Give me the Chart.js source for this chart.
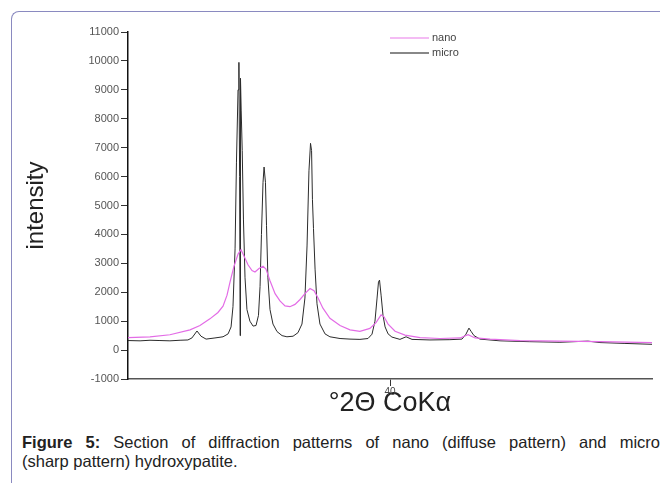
<!DOCTYPE html>
<html>
<head>
<meta charset="utf-8">
<title>Figure 5</title>
<script src="https://cdn.jsdelivr.net/npm/chart.js@4/dist/chart.umd.min.js"></script>
<style>
  body { margin: 0; background: #fff; overflow: hidden; font-family: "Liberation Sans", Arial, sans-serif; }
  .frame {
    position: absolute; left: 11px; top: 11px; width: 700px; height: 520px;
    border-top: 1px solid #8a8ac0; border-left: 1px solid #8a8ac0;
    border-top-left-radius: 8px;
  }
  #chart { position: absolute; left: 0; top: 0; }
  .caption {
    position: absolute; left: 22px; top: 433px; width: 638px;
    font-size: 16.5px; line-height: 19px; color: #222;
  }
  .caption .first { text-align: justify; text-align-last: justify; white-space: nowrap; }
</style>
</head>
<body>
<div class="frame"></div>
<canvas id="chart" width="660" height="420"></canvas>
<div class="caption">
  <div class="first"><b>Figure 5:</b> Section of diffraction patterns of nano (diffuse pattern) and micro</div>
  <div>(sharp pattern) hydroxypatite.</div>
</div>

<script>
// 2-theta (deg) and intensity
const nanoAngle = [25.00, 26.26, 27.40, 28.55, 29.12, 29.69, 30.15, 30.44, 30.67, 30.84, 31.07, 31.30, 31.47, 31.64, 31.87,
  32.10, 32.27, 32.50, 32.73, 32.90, 33.13, 33.42, 33.70, 33.99, 34.27, 34.56, 34.85, 35.13, 35.42, 35.65, 35.88,
  36.16, 36.56, 37.14, 37.71, 38.28, 38.85, 39.20, 39.49, 39.66, 39.89, 40.29, 40.86, 41.72, 42.86, 44.01, 44.47,
  44.87, 45.73, 47.44, 49.73, 52.02, 55.00];
const nanoIntensity = [430, 460, 530, 700, 850, 1080, 1300, 1520, 1900, 2350, 2900, 3320, 3470, 3250, 2950,
  2750, 2700, 2820, 2900, 2800, 2400, 1950, 1700, 1530, 1500, 1580, 1750, 1950, 2130, 2050, 1800,
  1450, 1100, 850, 700, 650, 750, 950, 1220, 1150, 900, 650, 520, 430, 400, 420, 530,
  420, 380, 330, 310, 290, 260];

const microAngle = [25.00, 25.69, 26.26, 26.83, 27.40, 27.98, 28.43, 28.66, 28.95, 29.18, 29.47, 29.98, 30.44, 30.73,
  30.90, 31.01, 31.13, 31.21, 31.30, 31.35, 31.39, 31.42, 31.44, 31.48, 31.54, 31.61, 31.70, 31.81, 31.98,
  32.16, 32.33, 32.47, 32.56, 32.64, 32.73, 32.79, 32.87, 32.93, 33.01, 33.13, 33.30, 33.53, 33.82, 34.10,
  34.45, 34.73, 34.96, 35.13, 35.25, 35.36, 35.45, 35.51, 35.56, 35.62, 35.71, 35.82, 35.99, 36.28, 36.56,
  37.14, 37.71, 38.28, 38.74, 38.97, 39.14, 39.26, 39.34, 39.40, 39.49, 39.60, 39.72, 39.89, 40.11, 40.57,
  40.92, 41.26, 42.29, 43.43, 44.12, 44.35, 44.52, 44.64, 44.81, 45.15, 46.30, 48.01, 49.73, 51.33, 52.02,
  53.45, 55.00];
const microIntensity = [330, 320, 340, 330, 320, 340, 350, 420, 660, 480, 380, 420, 460, 560,
  800, 1500, 3500, 6500, 9000, 9950, 6000, 500, 9400, 8300, 6900, 4500, 2500, 1400, 1000,
  830, 850, 1200, 2200, 4000, 5800, 6330, 5800, 4300, 2500, 1400, 900, 640, 500, 460,
  480, 600, 900, 1800, 3600, 6200, 7150, 6900, 5200, 4200, 2800, 1600, 900, 560, 460,
  400, 380, 370, 400, 550, 1000, 1800, 2350, 2420, 1900, 1200, 800, 560, 450, 370,
  460, 370, 350, 360, 380, 550, 760, 650, 500, 380, 320, 290, 270, 310, 260,
  230, 200];

const seriesNames = ['nano', 'micro'];
const xTicks = [40];
const yMin = -1000, yMax = 11000;

const toPoints = (xs, ys) => xs.map((x, i) => ({ x: x, y: ys[i] }));

Chart.defaults.font.family = '"Liberation Sans", Arial, sans-serif';

// legend drawn inside the plot like the original
const insideLegend = {
    id: 'insideLegend',
    afterDraw(chart) {
        const c = chart.ctx;
        const rows = [
            { label: seriesNames[0], color: '#f0a6f0', y: 38, w: 1.5 },
            { label: seriesNames[1], color: '#888888', y: 53, w: 2 }
        ];
        c.save();
        c.font = '11px "Liberation Sans", Arial, sans-serif';
        c.textBaseline = 'middle';
        rows.forEach(r => {
            c.strokeStyle = r.color;
            c.lineWidth = r.w;
            c.beginPath();
            c.moveTo(390, r.y);
            c.lineTo(429, r.y);
            c.stroke();
            c.fillStyle = '#444';
            c.fillText(r.label, 432, r.y);
        });
        c.restore();
    }
};

new Chart(document.getElementById('chart'), {
    type: 'line',
    data: {
        datasets: [{
            label: seriesNames[0],
            data: toPoints(nanoAngle, nanoIntensity),
            borderColor: '#e36ce6',
            borderWidth: 1.2,
            pointRadius: 0,
            tension: 0
        }, {
            label: seriesNames[1],
            data: toPoints(microAngle, microIntensity),
            borderColor: '#2b2b2b',
            borderWidth: 1,
            pointRadius: 0,
            tension: 0
        }]
    },
    options: {
        responsive: false,
        animation: false,
        layout: {
            padding: { left: 0, top: 32, right: 8, bottom: 0 }
        },
        scales: {
            x: {
                type: 'linear',
                min: 25,
                max: 55,
                afterFit: (scale) => { scale.height = 41; },
                afterBuildTicks: (scale) => { scale.ticks = xTicks.map(v => ({ value: v })); },
                border: { display: true, color: '#555', width: 1.5 },
                grid: { drawOnChartArea: false, tickLength: 7, color: '#333' },
                ticks: { font: { size: 10 }, color: '#444', padding: 0, maxRotation: 0 },
                title: {
                    display: true,
                    text: '°2Θ CoKα',
                    font: { size: 27 },
                    color: '#222',
                    padding: { top: 0, bottom: 0 }
                }
            },
            y: {
                min: yMin,
                max: yMax,
                afterFit: (scale) => { scale.width = 128; },
                border: { display: true, color: '#111', width: 1.5 },
                grid: { drawOnChartArea: false, tickLength: 7, color: '#333' },
                ticks: {
                    stepSize: 500,
                    font: { size: 11 },
                    color: '#555',
                    padding: 2,
                    callback: (v) => (v % 1000 === 0 ? v : '')
                },
                title: {
                    display: true,
                    text: 'intensity',
                    font: { size: 24 },
                    color: '#222',
                    padding: { top: 22, bottom: 0 }
                }
            }
        },
        plugins: {
            legend: { display: false },
            tooltip: { enabled: false }
        }
    },
    plugins: [insideLegend]
});
</script>
</body>
</html>
